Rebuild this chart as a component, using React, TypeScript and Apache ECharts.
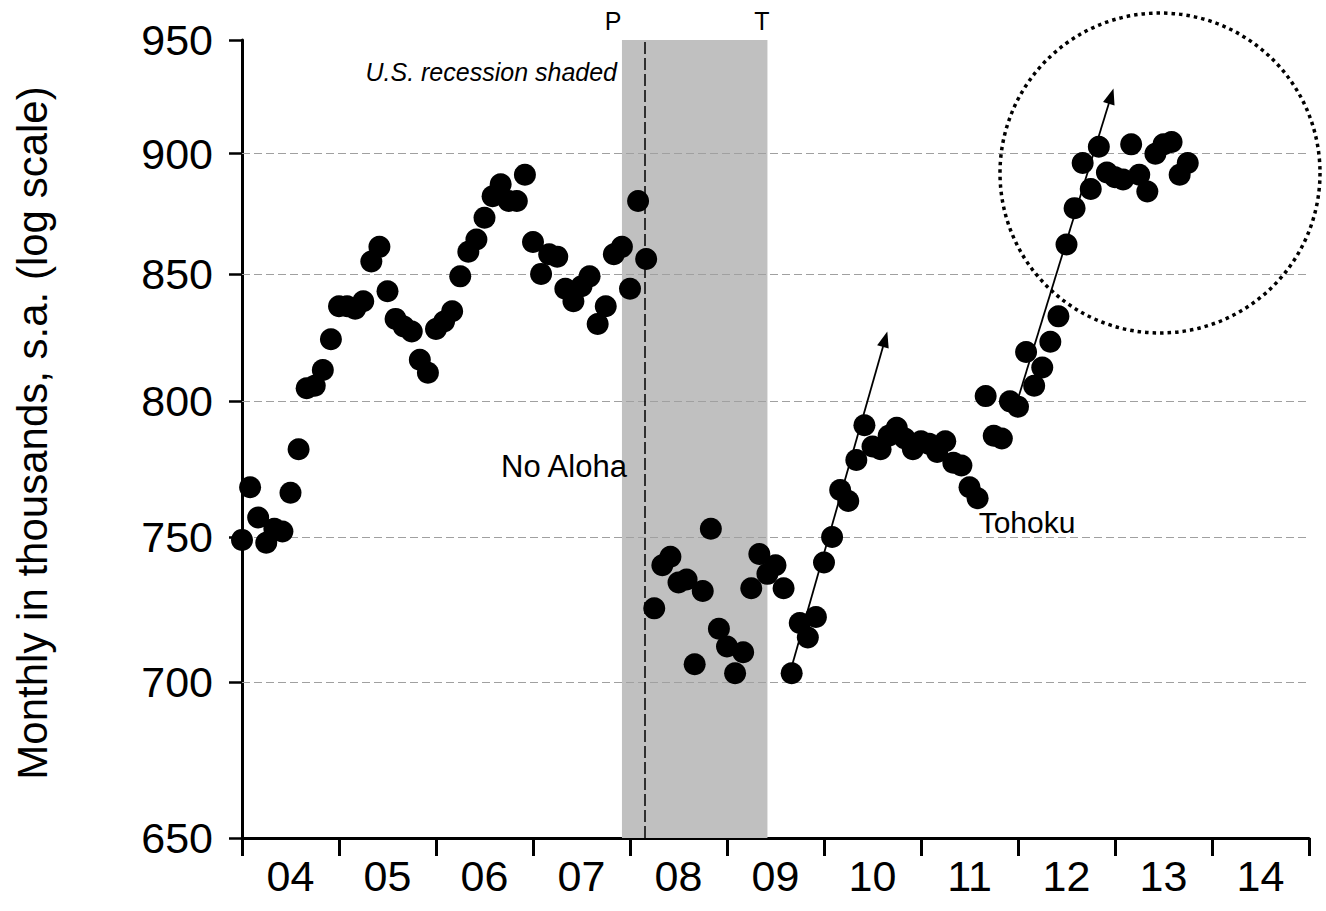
import React, { useEffect, useRef } from "react";
import * as echarts from "echarts";

// ---- Data: monthly values (thousands, s.a.), Jan..Dec of each year ----
const values2004 = [749, 768, 757, 748, 753, 752, 766, 782, 805, 806, 812, 824];
const values2005 = [837, 837, 836, 839, 855, 861, 843, 832, 829, 827, 816, 811];
const values2006 = [828, 831, 835, 849, 859, 864, 873, 882, 887, 880, 880, 891];
const values2007 = [863, 850, 858, 857, 844, 839, 845, 849, 830, 837, 858, 861];
const values2008 = [844, 880, 856, 725, 740, 743, 734, 735, 706, 731, 753, 718];
const values2009 = [712, 703, 710, 732, 744, 737, 740, 732, 703, 720, 715, 722];
const values2010 = [741, 750, 767, 763, 778, 791, 783, 782, 787, 790, 786, 782];
const values2011 = [785, 784, 781, 785, 777, 776, 768, 764, 802, 787, 786, 800];
const values2012 = [798, 819, 806, 813, 823, 833, 862, 877, 896, 885, 903, 892];
const values2013 = [890, 889, 904, 891, 884, 900, 904, 905, 891, 896];

const years = [2004, 2005, 2006, 2007, 2008, 2009, 2010, 2011, 2012, 2013];
const yearValues = [values2004, values2005, values2006, values2007, values2008, values2009, values2010, values2011, values2012, values2013];

// Axis ticks / labels
const xTickValues = [2004, 2005, 2006, 2007, 2008, 2009, 2010, 2011, 2012, 2013, 2014, 2015];
const xLabelValues = [2004.5, 2005.5, 2006.5, 2007.5, 2008.5, 2009.5, 2010.5, 2011.5, 2012.5, 2013.5, 2014.5];
const yTickValues = [650, 700, 750, 800, 850, 900, 950];
const yGridValues = [700, 750, 800, 850, 900];

// Annotations
const recessionStart = 2007.917; // Dec 2007 (peak)
const recessionEnd = 2009.417; // Jun 2009 (trough)
const alohaShutdown = 2008.15;
const arrow1 = [[2009.63, 701], [2010.63, 824]];
const arrow2 = [[2012.0, 801], [2012.96, 925]];
const yAxisTitle = "Monthly in thousands, s.a. (log scale)";

const FONT = "'Liberation Sans', Arial, Helvetica, sans-serif";

function buildPoints(): number[][] {
  const pts: number[][] = [];
  years.forEach((y, i) => {
    yearValues[i].forEach((v, m) => {
      pts.push([y + m / 12, v]);
    });
  });
  return pts;
}

export default function App() {
  const ref = useRef<HTMLDivElement>(null);

  useEffect(() => {
    if (!ref.current) return;
    const chart = echarts.init(ref.current, undefined, { renderer: "svg" });

    const arrowLine = (a: number[][]) => [
      { coord: a[0], symbol: "none" },
      { coord: a[1], symbol: "triangle", symbolSize: [12, 16] },
    ];

    const option: any = {
      animation: false,
      backgroundColor: "#fff",
      grid: { left: 242, right: 17, top: 40, bottom: 73 },
      xAxis: {
        type: "value",
        min: 2004,
        max: 2015,
        axisLine: { show: true, lineStyle: { color: "#000", width: 3 } },
        axisTick: {
          show: true,
          customValues: xTickValues,
          length: 18,
          lineStyle: { color: "#000", width: 3 },
        },
        axisLabel: {
          customValues: xLabelValues,
          formatter: (v: number) => String(Math.floor(v) % 100).padStart(2, "0"),
          fontSize: 43,
          color: "#000",
          fontFamily: FONT,
          margin: 16,
        },
        splitLine: { show: false },
      },
      yAxis: {
        type: "log",
        logBase: 10,
        min: 650,
        max: 950,
        axisLine: { show: true, lineStyle: { color: "#000", width: 3 } },
        axisTick: {
          show: true,
          customValues: yTickValues,
          length: 13,
          lineStyle: { color: "#000", width: 2.5 },
        },
        axisLabel: {
          customValues: yTickValues,
          formatter: (v: number) => String(Math.round(v)),
          fontSize: 43,
          color: "#000",
          fontFamily: FONT,
          margin: 29,
        },
        splitLine: { show: false },
      },
      series: [
        {
          name: "recession",
          type: "line",
          data: [],
          z: 1,
          silent: true,
          markArea: {
            silent: true,
            itemStyle: { color: "#c0c0c0" },
            data: [[{ xAxis: recessionStart }, { xAxis: recessionEnd }]],
          },
        },
        {
          name: "grid",
          type: "line",
          data: [],
          z: 2,
          silent: true,
          markLine: {
            silent: true,
            symbol: "none",
            label: { show: false },
            lineStyle: { color: "#a0a0a0", width: 1, type: [8, 4] },
            data: yGridValues.map((v) => ({ yAxis: v })),
          },
        },
        {
          name: "aloha",
          type: "line",
          data: [],
          z: 3,
          silent: true,
          markLine: {
            silent: true,
            symbol: "none",
            label: { show: false },
            lineStyle: { color: "#000", width: 1.5, type: [12, 4] },
            data: [{ xAxis: alohaShutdown }],
          },
        },
        {
          name: "jobs",
          type: "scatter",
          data: buildPoints(),
          symbol: "circle",
          symbolSize: 22,
          itemStyle: { color: "#000", opacity: 1 },
          z: 5,
          silent: true,
        },
        {
          name: "arrows",
          type: "line",
          data: [],
          z: 6,
          silent: true,
          markLine: {
            silent: true,
            label: { show: false },
            lineStyle: { color: "#000", width: 1.8, type: "solid" },
            data: [arrowLine(arrow1), arrowLine(arrow2)],
          },
        },
      ],
      graphic: [
        {
          type: "circle",
          shape: { cx: 1160, cy: 173, r: 160 },
          style: { fill: "none", stroke: "#000", lineWidth: 3.5, lineDash: [3.5, 4] },
          silent: true,
          z: 100,
        },
        {
          type: "text",
          x: 32,
          y: 433,
          rotation: Math.PI / 2,
          z: 100,
          style: {
            text: yAxisTitle,
            fontSize: 42,
            fontFamily: FONT,
            fill: "#000",
            align: "center",
            verticalAlign: "middle",
          },
        },
        {
          type: "text",
          x: 617,
          y: 72,
          z: 100,
          style: {
            text: "U.S. recession shaded",
            fontSize: 25,
            fontStyle: "italic",
            fontFamily: FONT,
            fill: "#000",
            align: "right",
            verticalAlign: "middle",
          },
        },
        {
          type: "text",
          x: 613,
          y: 21,
          z: 100,
          style: { text: "P", fontSize: 25, fontFamily: FONT, fill: "#000", align: "center", verticalAlign: "middle" },
        },
        {
          type: "text",
          x: 762,
          y: 21,
          z: 100,
          style: { text: "T", fontSize: 25, fontFamily: FONT, fill: "#000", align: "center", verticalAlign: "middle" },
        },
        {
          type: "text",
          x: 564,
          y: 466,
          z: 100,
          style: { text: "No Aloha", fontSize: 31, fontFamily: FONT, fill: "#000", align: "center", verticalAlign: "middle" },
        },
        {
          type: "text",
          x: 1027,
          y: 522,
          z: 100,
          style: { text: "Tohoku", fontSize: 30, fontFamily: FONT, fill: "#000", align: "center", verticalAlign: "middle" },
        },
      ],
    };

    chart.setOption(option);
    return () => chart.dispose();
  }, []);

  return (
    <div
      ref={ref}
      style={{ position: "fixed", left: 0, top: 0, width: 1326, height: 911, background: "#fff" }}
    />
  );
}
